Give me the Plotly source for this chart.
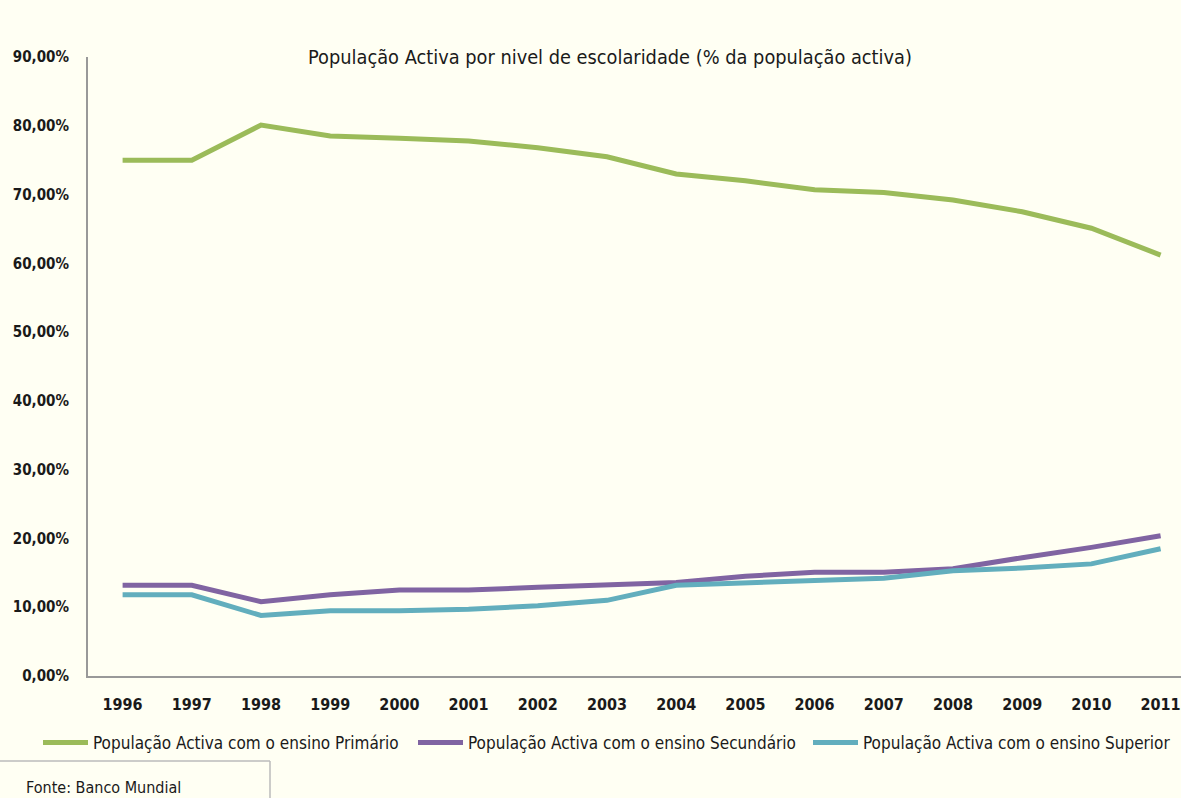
import plotly.graph_objects as go

years = list(range(1996, 2012))
primario = [75.0, 75.0, 80.1, 78.5, 78.2, 77.8, 76.8, 75.5, 73.0, 72.0, 70.7, 70.3, 69.2, 67.5, 65.1, 61.2]
secundario = [13.2, 13.2, 10.8, 11.8, 12.5, 12.5, 12.9, 13.2, 13.6, 14.5, 15.1, 15.1, 15.6, 17.2, 18.7, 20.4]
superior = [11.8, 11.8, 8.8, 9.5, 9.5, 9.7, 10.2, 11.0, 13.2, 13.6, 13.9, 14.2, 15.3, 15.7, 16.3, 18.5]

names = ["População Activa com o ensino Primário",
         "População Activa com o ensino Secundário",
         "População Activa com o ensino Superior"]
colors = ["#9BBB59", "#8064A2", "#62AEBD"]
title = "População Activa por nivel de escolaridade (% da população activa)"
source = "Fonte: Banco Mundial"
yticks = [0, 10, 20, 30, 40, 50, 60, 70, 80, 90]
ytick_text = [f"{v:.2f}".replace(".", ",") + "%" for v in yticks]

W, H = 1181, 798
ML, MR, MT, MB = 88, 0, 57, 122
BG = "#FFFFF3"
FONT = "DejaVu Sans Condensed, Liberation Sans Narrow, Roboto Condensed, sans-serif"
legend_ids = ["legend", "legend2", "legend3"]
legend_px = [38, 413, 808]

fig = go.Figure()
for name, vals, col, lid in zip(names, [primario, secundario, superior], colors, legend_ids):
    fig.add_trace(go.Scatter(x=years, y=vals, name=name, mode="lines",
                             line=dict(color=col, width=5), legend=lid))

pw = W - ML - MR
ph = H - MT - MB
def px2paper_x(px):
    return (px - ML) / pw
def py2paper_y(py):
    return (H - MB - py) / ph

legend_common = dict(orientation="h", xanchor="left", y=py2paper_y(743), yanchor="middle",
                     font=dict(size=17, family=FONT, color="#1a1a1a"),
                     bgcolor="rgba(0,0,0,0)", itemwidth=45)

fig.update_layout(
    width=W, height=H, autosize=False,
    margin=dict(l=ML, r=MR, t=MT, b=MB, pad=0),
    paper_bgcolor=BG, plot_bgcolor=BG,
    separators=",.",
    font=dict(family=FONT, color="#1a1a1a"),
    title=dict(text=title, x=px2paper_x(610), xref="paper", xanchor="center",
               y=1 - 57 / H, yanchor="middle",
               font=dict(size=19.8, family=FONT, color="#1a1a1a")),
    showlegend=True,
    legend=dict(x=px2paper_x(legend_px[0]), **legend_common),
    legend2=dict(x=px2paper_x(legend_px[1]), **legend_common),
    legend3=dict(x=px2paper_x(legend_px[2]), **legend_common),
    xaxis=dict(range=[1995.5, 1995.5 + pw / 69.2], tickmode="array", tickvals=years,
               ticktext=[str(y) for y in years], showgrid=False, zeroline=False,
               showline=True, linecolor="#999999", linewidth=2, ticks="",
               tickfont=dict(size=16, family=FONT, color="#1a1a1a", weight="bold"),
               ticklabelstandoff=13),
    yaxis=dict(range=[0, 90], tickmode="array", tickvals=yticks, ticktext=ytick_text,
               showgrid=False, zeroline=False, showline=True, linecolor="#999999", linewidth=2,
               ticks="",
               tickfont=dict(size=15, family=FONT, color="#1a1a1a", weight="bold"),
               ticklabelstandoff=14),
)

fig.add_annotation(text=source, xref="paper", yref="paper", x=px2paper_x(24), y=py2paper_y(787),
                   xanchor="left", yanchor="middle", showarrow=False,
                   font=dict(size=16, family=FONT, color="#1a1a1a"))
fig.add_shape(type="line", xref="paper", yref="paper", x0=px2paper_x(0), x1=px2paper_x(270),
              y0=py2paper_y(761), y1=py2paper_y(761), line=dict(color="#BBBBBB", width=1.5))
fig.add_shape(type="line", xref="paper", yref="paper", x0=px2paper_x(270), x1=px2paper_x(270),
              y0=py2paper_y(761), y1=py2paper_y(800), line=dict(color="#BBBBBB", width=1.5))

fig.write_html("out.html", config={"displayModeBar": False},
               post_script="document.body.style.margin='0';")
